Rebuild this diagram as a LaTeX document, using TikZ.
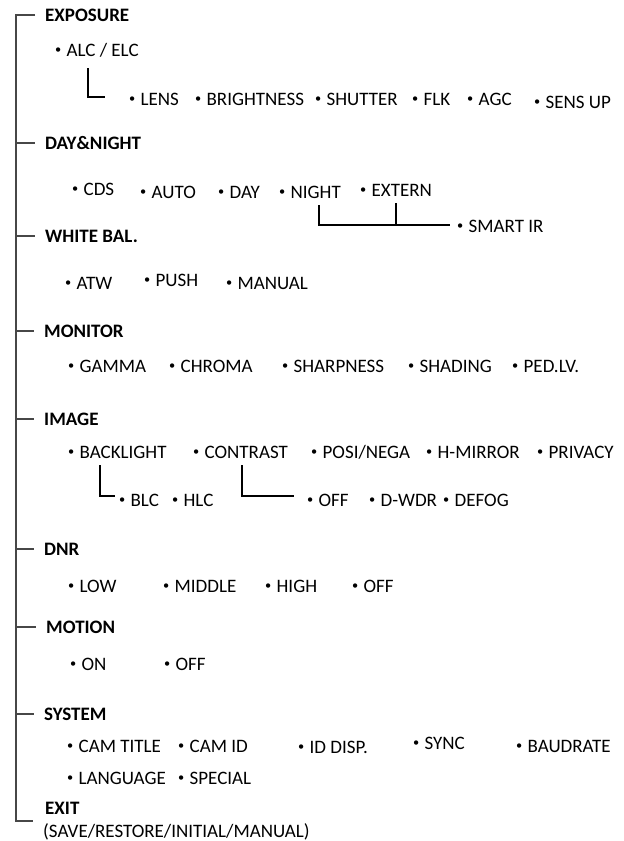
\documentclass[tikz,border=0pt]{standalone}
\usepackage{fontspec}
\setmainfont{Carlito}
\usetikzlibrary{positioning,calc}

\newcommand{\menufont}{\fontsize{19}{22}\selectfont}
\newcommand{\menudot}{\raisebox{2.2pt}{\scalebox{0.65}{\textbullet}}\hspace{5.4pt}}

\tikzset{
  head/.style={anchor=west, inner sep=0pt, font=\menufont\bfseries, text height=12.2pt, text depth=0pt},
  item/.style={anchor=west, inner sep=0pt, font=\menufont, text height=12.2pt, text depth=0pt, xshift=-3.1pt,
    execute at begin node={\menudot}},
  note/.style={anchor=west, inner sep=0pt, font=\menufont, text height=12.2pt, text depth=0pt},
  trunk/.style={line width=2.8pt, draw=black!72},
  link/.style={line width=1.5pt}
}

\begin{document}
\begin{tikzpicture}[x=1pt, y=-1pt]
  \useasboundingbox (0,0) rectangle (624,841);

  % headings
  \node[head] (exposure) at (45,15) {EXPOSURE};
  \node[head] (daynight) at (45,143) {DAY\&NIGHT};
  \node[head] (whitebal) at (45,236) {WHITE BAL.};
  \node[head] (monitor)  at (44,331) {MONITOR};
  \node[head] (image)    at (44,419) {IMAGE};
  \node[head] (dnr)      at (44,549) {DNR};
  \node[head] (motion)   at (46,627) {MOTION};
  \node[head] (system)   at (44,714) {SYSTEM};
  \node[head] (exit)     at (45,808) {EXIT};
  \node[note] (exitnote) at (43,831) {(SAVE/RESTORE/INITIAL/MANUAL)};

  % exposure
  \node[item] (alc) at (58,50) {ALC / ELC};
  \node[item] (lens)       at (132,99) {LENS};
  \node[item] (brightness) at (198,99) {BRIGHTNESS};
  \node[item] (shutter)    at (318,99) {SHUTTER};
  \node[item] (flk)        at (415,99) {FLK};
  \node[item] (agc)        at (470,99) {AGC};
  \node[item] (sensup)     at (537,102) {SENS UP};

  % day & night
  \node[item] (cds)     at (75,189) {CDS};
  \node[item] (auto)    at (143,192) {AUTO};
  \node[item] (day)     at (221,192) {DAY};
  \node[item] (night)   at (282,192) {NIGHT};
  \node[item] (extern)  at (363,190) {EXTERN};
  \node[item] (smartir) at (460,226) {SMART IR};

  % white balance
  \node[item] (atw)    at (68,283) {ATW};
  \node[item] (push)   at (147,280) {PUSH};
  \node[item] (manual) at (229,283) {MANUAL};

  % monitor
  \node[item] (gamma)     at (71,366) {GAMMA};
  \node[item] (chroma)    at (172,366) {CHROMA};
  \node[item] (sharpness) at (285,366) {SHARPNESS};
  \node[item] (shading)   at (411,366) {SHADING};
  \node[item] (pedlv)     at (515,366) {PED.LV.};

  % image
  \node[item] (backlight) at (71,452) {BACKLIGHT};
  \node[item] (contrast)  at (196,452) {CONTRAST};
  \node[item] (posinega)  at (314,452) {POSI/NEGA};
  \node[item] (hmirror)   at (429,452) {H-MIRROR};
  \node[item] (privacy)   at (540,452) {PRIVACY};
  \node[item] (blc)   at (122,500) {BLC};
  \node[item] (hlc)   at (175,500) {HLC};
  \node[item] (off)   at (310,500) {OFF};
  \node[item] (dwdr)  at (372,500) {D-WDR};
  \node[item] (defog) at (446,500) {DEFOG};

  % dnr
  \node[item] (low)    at (71,586) {LOW};
  \node[item] (middle) at (166,586) {MIDDLE};
  \node[item] (high)   at (268,586) {HIGH};
  \node[item] (dnroff) at (355,586) {OFF};

  % motion
  \node[item] (on)     at (73,664) {ON};
  \node[item] (motoff) at (167,664) {OFF};

  % system
  \node[item] (camtitle) at (70,746) {CAM TITLE};
  \node[item] (camid)    at (181,746) {CAM ID};
  \node[item] (iddisp)   at (301,747) {ID DISP.};
  \node[item] (sync)     at (416,743) {SYNC};
  \node[item] (baudrate) at (519,746) {BAUDRATE};
  \node[item] (language) at (70,778) {LANGUAGE};
  \node[item] (special)  at (181,778) {SPECIAL};

  % trunk
  \coordinate (foot) at (16,821);
  \coordinate (footend) at (33,821);
  \draw[trunk] ([xshift=-10pt]exposure.west) -| (foot) -- (footend);
  \foreach \h in {daynight,whitebal,monitor,image,dnr,motion,system}
    \draw[trunk] (foot |- \h.west) -- ([xshift=-10pt]\h.west);

  % sub links
  \draw[link] ([shift={(33,12)}]alc.south west) |- ([shift={(-24,-2)}]lens.west);
  \draw[link] ([shift={(40,7)}]night.south west) |- ([shift={(-7,-1)}]smartir.west);
  \draw[link] ([shift={(36,7)}]extern.south west) |- ([shift={(-7,-1)}]smartir.west);
  \draw[link] ([shift={(32,7)}]backlight.south west) |- ([shift={(-4,-4)}]blc.west);
  \draw[link] ([shift={(49,7)}]contrast.south west) |- ([shift={(-13,-4)}]off.west);
\end{tikzpicture}
\end{document}
